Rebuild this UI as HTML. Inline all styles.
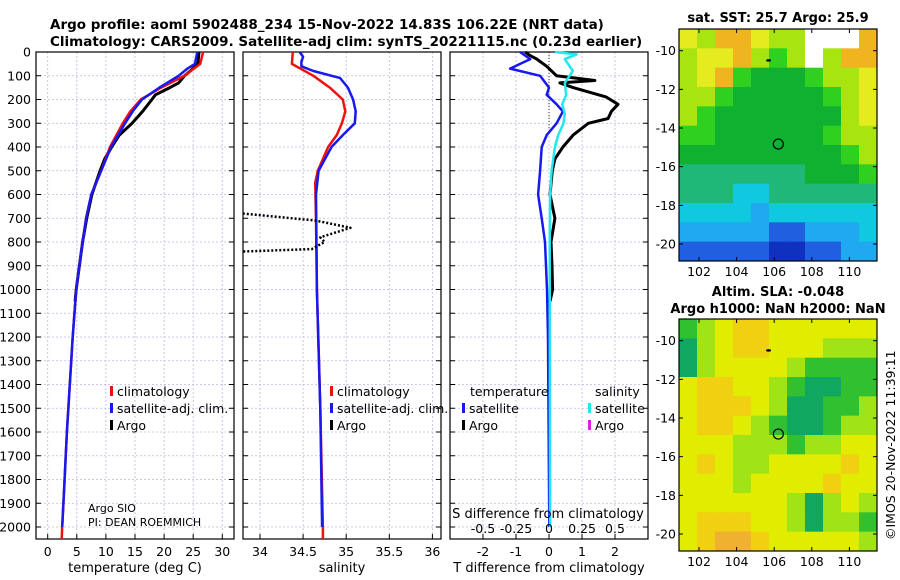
<!DOCTYPE html>
<html><head><meta charset="utf-8"><style>
html,body{margin:0;padding:0;background:#fff;}
svg{display:block;font-family:"DejaVu Sans","Liberation Sans",sans-serif;}
</style></head><body>
<svg id="fig" width="900" height="580" viewBox="0 0 900 580" xmlns="http://www.w3.org/2000/svg">
<text x="50" y="29" font-size="13.5" font-weight="bold">Argo profile: aoml 5902488_234 15-Nov-2022 14.83S 106.22E (NRT data)</text>
<text x="50" y="46" font-size="13.5" font-weight="bold">Climatology: CARS2009. Satellite-adj clim: synTS_20221115.nc (0.23d earlier)</text>
<text x="778" y="22" font-size="13" font-weight="bold" text-anchor="middle">sat. SST: 25.7 Argo: 25.9</text>
<text x="778" y="296" font-size="13" font-weight="bold" text-anchor="middle">Altim. SLA: -0.048</text>
<text x="778" y="313" font-size="13" font-weight="bold" text-anchor="middle">Argo h1000: NaN h2000: NaN</text>
<text transform="translate(895,540) rotate(-90)" font-size="12.5">©IMOS 20-Nov-2022 11:39:11</text>
<g id="g"></g>
</svg>
<script>
// ---------- data ----------
const depthTicks=[0,100,200,300,400,500,600,700,800,900,1000,1100,1200,1300,1400,1500,1600,1700,1800,1900,2000];
const tempTicks=[0,5,10,15,20,25,30];
const salTicks=[34,34.5,35,35.5,36];
const tdiffTicks=[-2,-1,0,1,2];
const sdiffTicks=[-0.5,-0.25,0,0.25,0.5];
const sdiffLabels=["-0.5","-0.25","0","0.25","0.5"];
const climTdepth=[0,50,100,150,200,250,300,400,500,600,700,800,1000,1200,1400,1600,1800,2000,2050];
const climTval=[26.7,26.2,23.5,19.5,16,14.2,12.9,10.7,9.2,7.5,6.6,6,4.9,4.3,3.8,3.3,2.9,2.5,2.4];
const satTdepth=[0,50,70,100,150,200,250,300,400,500,600,700,800,1000,1200,1400,1600,1800,2000];
const satTval=[25.7,25.3,24,22.5,19.2,16.2,14.6,13.3,10.9,9.2,7.5,6.6,6,4.9,4.3,3.8,3.3,2.9,2.5];
const argoTdepth=[0,50,80,100,130,150,180,200,250,300,350,400,450,500,600,700,800,1000,1050];
const argoTval=[26,25.8,24.5,23.5,22.5,21,18.5,17.9,16.3,14.5,12.3,11,9.8,9,7.6,6.7,6,4.9,4.7];
const climSdepth=[0,50,100,150,200,250,300,350,400,500,550,700,1000,1500,2000,2050];
const climSval=[34.38,34.37,34.62,34.81,34.96,34.99,34.95,34.89,34.79,34.67,34.64,34.65,34.66,34.7,34.73,34.73];
const satSdepth=[0,20,40,60,80,110,150,200,250,300,350,400,500,600,1000,1500,2000];
const satSval=[34.46,34.5,34.48,34.48,34.62,34.93,35.02,35.08,35.11,35.1,34.96,34.83,34.68,34.65,34.66,34.7,34.72];
const argoSdepth=[680,710,740,780,800,830,840];
const argoSval=[33.8,34.65,35.05,34.7,34.75,34.6,33.8];
const dTsatDepth=[0,30,70,100,150,180,220,250,300,350,400,500,600,700,800,1000,1200,2000];
const dTsatVal=[-0.88,-0.57,-1.18,-0.27,0,-0.07,0.23,0.42,0.23,-0.07,-0.22,-0.27,-0.33,-0.22,-0.12,-0.06,-0.03,0.01];
const dSsatDepth=[0,10,30,80,130,180,220,260,300,350,400,500,600,800,2000];
const dSsatVal=[0.045,0.21,0.12,0.18,0.12,0.13,0.1,0.12,0.11,0.07,0.045,0.02,0.008,0.005,0.008];
const dTargoDepth=[0,15,30,60,100,120,130,150,190,220,250,280,300,350,400,450,500,600,700,800,900,1000,1050];
const dTargoVal=[-0.72,-0.57,-0.37,-0.07,0.23,1.39,0.33,0.73,1.74,2.09,1.89,1.79,1.19,0.73,0.42,0.18,0.1,0.03,0.18,0.06,0.09,0.11,0.03];
const lonTicks=[102,104,106,108,110];
const latTicks=[-10,-12,-14,-16,-18,-20];
const sstGrid=[
"8799877WWW9","7889767W799","78965556778","77655555678","76555555578","66555555677",
"55555555567","44444445556","44433444444","33332333333","22222112223","11111001122"];
const slaGrid=[
"12344333333","02344333222","02333321111","34433210011","34443200112","34432100122",
"33322212233","34322333343","33323333433","33333320232","34443320221","34554333332"];
const sstColors=["#1030c0","#2060e0","#20a8f0","#10c8e0","#20b878","#10b030","#30d020","#a8e410","#e4ec20","#f0b420"];
const slaColors=["#10a860","#30c030","#a0e418","#e0ec00","#f0d010","#f0b030"];
const argoLon=106.22, argoLat=-14.83;
// ---------- helpers ----------
const NS="http://www.w3.org/2000/svg";
const G=document.getElementById('g');
function el(tag,attrs,parent){const e=document.createElementNS(NS,tag);for(const k in attrs)e.setAttribute(k,attrs[k]);(parent||G).appendChild(e);return e;}
const yTop=52,yBot=539;
function yD(d){return 52+d*0.2375;}
const panels=[
 {x0:36,x1:234,vmin:(36-47.7)/5.82,vmax:(234-47.7)/5.82},
 {x0:243,x1:441,vmin:34+(243-260)/86.2,vmax:34+(441-260)/86.2},
 {x0:450,x1:648,vmin:-3,vmax:3}
];
function xs(p,v){return p.x0+(v-p.vmin)/(p.vmax-p.vmin)*(p.x1-p.x0);}
function xS(v){return 549+v*132;}
function grid(p,ticks,name){
 const g=el('g',{});
 
 
 ticks.forEach(t=>{const x=xs(p,t);el('line',{x1:x,x2:x,y1:yTop,y2:yBot,stroke:'#b8bce0','stroke-width':0.8,'stroke-dasharray':'2,2'},g);});
 depthTicks.forEach(d=>{const y=yD(d);el('line',{x1:p.x0,x2:p.x1,y1:y,y2:y,stroke:'#b8bce0','stroke-width':0.8,'stroke-dasharray':'2,2'},g);
  el('line',{x1:p.x0,x2:p.x0+5,y1:y,y2:y,stroke:'#000'},g);el('line',{x1:p.x1-5,x2:p.x1,y1:y,y2:y,stroke:'#000'},g);});
 ticks.forEach(t=>{const x=xs(p,t);el('line',{x1:x,x2:x,y1:yBot-5,y2:yBot,stroke:'#000'},g);});
 el('rect',{x:p.x0,y:yTop,width:p.x1-p.x0,height:yBot-yTop,fill:'none',stroke:'#000','stroke-width':1.2},g);
}
function line(p,ds,vs,color,name,w,dash,scale){
 const pts=ds.map((d,i)=>(scale?scale(vs[i]):xs(p,vs[i])).toFixed(1)+','+yD(d).toFixed(1)).join(' ');
 const pl=el('polyline',{points:pts,fill:'none',stroke:color,'stroke-width':w||2.5,'stroke-linejoin':'round'});
 if(dash)pl.setAttribute('stroke-dasharray',dash);
 
 
}
function txt(x,y,s,opt,name){const t=el('text',Object.assign({x:x,y:y,'font-size':12.5},opt||{}));t.textContent=s;
 
 return t;}
function legend(x,y,color,label,name){
 const r=el('rect',{x:x,y:y-10,width:3,height:10,fill:color});
 
 
 txt(x+7,y,label,{'font-size':12.5},name+'-label');
}
const P1=panels[0],P2=panels[1],P3=panels[2];
grid(P1,tempTicks,'temperature');grid(P2,salTicks,'salinity');grid(P3,tdiffTicks,'difference');
depthTicks.forEach(d=>txt(31,yD(d)+4.5,String(d),{'text-anchor':'end'},'depth-tick-'+d));
tempTicks.forEach(t=>txt(xs(P1,t),556,String(t),{'text-anchor':'middle'},'temp-tick-'+t));
salTicks.forEach(t=>txt(xs(P2,t),556,String(t),{'text-anchor':'middle'},'sal-tick-'+t));
tdiffTicks.forEach(t=>txt(xs(P3,t),556,String(t),{'text-anchor':'middle'},'tdiff-tick-'+t));
txt(135,572,'temperature (deg C)',{'text-anchor':'middle','font-size':13},'x-axis-title-temperature');
txt(342,572,'salinity',{'text-anchor':'middle','font-size':13},'x-axis-title-salinity');
txt(549,572,'T difference from climatology',{'text-anchor':'middle','font-size':13},'x-axis-title-tdiff');
line(P1,argoTdepth,argoTval,'#000','argo-temperature-line',3);
line(P1,climTdepth,climTval,'#f01010','clim-temperature-line',2.5);
line(P1,satTdepth,satTval,'#1818f0','sat-temperature-line',2.5);
line(P2,climSdepth,climSval,'#f01010','clim-salinity-line',2.5);
line(P2,satSdepth,satSval,'#1818f0','sat-salinity-line',2.5);
line(P2,argoSdepth,argoSval,'#000','argo-salinity-line',2.5,'2,2');
const zl=el('line',{x1:549,x2:549,y1:yTop,y2:130,stroke:'#333','stroke-width':1,'stroke-dasharray':'1,2'});


line(P3,dTargoDepth,dTargoVal,'#000','argo-tdiff-line',3);
line(P3,dTsatDepth,dTsatVal,'#1818f0','sat-tdiff-line',2.5);
line(P3,dSsatDepth,dSsatVal,'#20e8f0','sat-sdiff-line',2.5,null,xS);
txt(548,518,'S difference from climatology',{'text-anchor':'middle','font-size':13},'s-diff-axis-title');
sdiffTicks.forEach((t,i)=>txt(xS(t),533,sdiffLabels[i],{'text-anchor':'middle','font-size':12.5},'sdiff-tick-'+i));
legend(110,396,'#f01010','climatology','legend-t-climatology');
legend(110,413,'#1818f0','satellite-adj. clim.','legend-t-satellite');
legend(110,430,'#000','Argo','legend-t-argo');
legend(330,396,'#f01010','climatology','legend-s-climatology');
legend(330,413,'#1818f0','satellite-adj. clim.','legend-s-satellite');
legend(330,430,'#000','Argo','legend-s-argo');
txt(470,396,'temperature',{'font-size':12.5},'legend-temperature-heading');
txt(595,396,'salinity',{'font-size':12.5},'legend-salinity-heading');
legend(462,413,'#1818f0','satellite','legend-dt-satellite');
legend(462,430,'#000','Argo','legend-dt-argo');
legend(588,413,'#20e8f0','satellite','legend-ds-satellite');
legend(588,430,'#e020e0','Argo','legend-ds-argo');
txt(88,512,'Argo SIO',{'font-size':11},'float-owner');
txt(88,526,'PI: DEAN ROEMMICH',{'font-size':11},'float-pi');
function map(top,gridRows,colors,name){
 const x0=679,x1=877,y0=top,y1=top+232;
 const lon=v=>699+(v-102)*18.8, lat=v=>(top+21.7)+(-10-v)*19.33;
 const g=el('g',{});
 
 
 const nr=gridRows.length;
 gridRows.forEach((row,r)=>{
  const nc=row.length,cw=(x1-x0)/nc,ch=(y1-y0)/nr;
  for(let c=0;c<nc;c++){const ch_=row[c];
   const fill=ch_==='W'?'#fff':colors[+ch_];
   el('rect',{x:(x0+c*cw).toFixed(2),y:(y0+r*ch).toFixed(2),width:(cw+0.5).toFixed(2),height:(ch+0.5).toFixed(2),fill:fill},g);}
 });
 el('rect',{x:x0,y:y0,width:x1-x0,height:y1-y0,fill:'none',stroke:'#000','stroke-width':1.2},g);
 lonTicks.forEach(v=>{el('line',{x1:lon(v),x2:lon(v),y1:y1-4,y2:y1,stroke:'#000'},g);el('line',{x1:lon(v),x2:lon(v),y1:y0,y2:y0+4,stroke:'#000'},g);
  txt(lon(v),y1+15,String(v),{'text-anchor':'middle'},name+'-lon-'+v);});
 latTicks.forEach(v=>{el('line',{x1:x0,x2:x0+4,y1:lat(v),y2:lat(v),stroke:'#000'},g);el('line',{x1:x1-4,x2:x1,y1:lat(v),y2:lat(v),stroke:'#000'},g);
  txt(x0-3,lat(v)+4.5,String(v),{'text-anchor':'end'},name+'-lat-'+v);});
 const c=el('circle',{cx:lon(argoLon),cy:lat(argoLat),r:5,fill:'none',stroke:'#000','stroke-width':1.2});
 
 
 el('ellipse',{cx:lon(105.7),cy:lat(-10.5),rx:2.5,ry:1.3,fill:'#000'});
}
map(29,sstGrid,sstColors,'sst-map');
map(319,slaGrid,slaColors,'sla-map');
</script>
</body></html>
